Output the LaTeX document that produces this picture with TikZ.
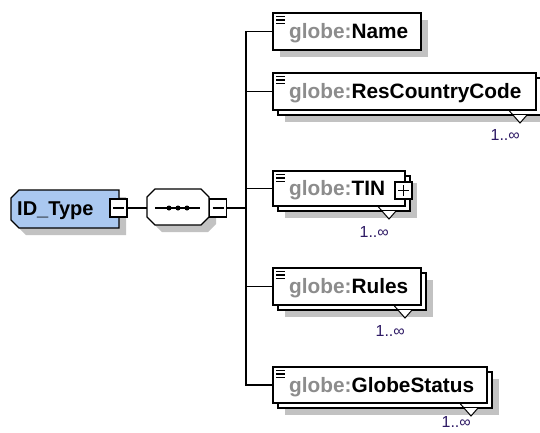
\documentclass[tikz,border=0pt]{standalone}
\usepackage{fontspec}
\setmainfont{Liberation Sans}
\definecolor{idblue}{RGB}{170,200,240}
\definecolor{shadowgray}{RGB}{194,194,194}
\definecolor{prefixgray}{RGB}{140,140,140}
\definecolor{labelcol}{RGB}{45,25,100}
\newcommand{\elicon}[2]{%
  \draw[line width=1.1pt] (#1+3,#2+3.5) -- (#1+12,#2+3.5);
  \draw[line width=1.1pt] (#1+3,#2+7) -- (#1+12,#2+7);
  \draw[line width=1.1pt] (#1+3,#2+10.5) -- (#1+12,#2+10.5);}
\newcommand{\singleelem}[6]{%
  \fill[sh] (#2+7,#3+7) rectangle (#4+7,#5+7);
  \node[elbox, minimum width={#4-#2}, minimum height={#5-#3}] (#1) at (#2,#3) {};
  \elicon{#2}{#3}
  \node[eltext] (#1txt) at (#2+16,{(#3+#5)/2+7}) {{\color{prefixgray}globe:}#6};}
\newcommand{\repelem}[7]{%
  \fill[sh] (#2+12,#3+12) rectangle (#4+12,#5+12);
  \node[elbox, minimum width={#4-#2}, minimum height={#5-#3}] (#1bk) at (#2+5,#3+5) {};
  \fill[white] (#4-23,#5+5) -- (#4-9,#5+5) -- (#4-16,#5+13) -- cycle;
  \draw[line width=1pt] (#4-27.4,#5) -- (#4-16,#5+13) -- (#4-9,#5+5);
  \node[elbox, minimum width={#4-#2}, minimum height={#5-#3}] (#1) at (#2,#3) {};
  \elicon{#2}{#3}
  \node[eltext] (#1txt) at (#2+16,{(#3+#5)/2+7}) {{\color{prefixgray}globe:}#6};
  \node[card] (#1card) at (#4-16,#7) {1..∞};}
\begin{document}
\begin{tikzpicture}[x=1pt,y=-1pt,line join=miter,
  frame/.style={draw=black,line width=1.3pt},
  elbox/.style={frame,fill=white,rectangle,inner sep=0pt,outer sep=0pt,anchor=north west},
  sh/.style={fill=shadowgray},
  eltext/.style={anchor=base west,inner sep=0pt,font=\fontsize{20.8}{24}\selectfont\bfseries},
  card/.style={anchor=base east,inner sep=0pt,text=labelcol,font=\fontsize{16}{18}\selectfont},
  conn/.style={draw=black,line width=1.3pt},
  minusbox/.style={frame,fill=white,rectangle,inner sep=0pt,outer sep=0pt,minimum width=17,minimum height=18}]
\useasboundingbox (0,0) rectangle (540,432);

% ---- ID_Type complex type
\fill[sh] (18,205) -- (26,197) -- (126,197) -- (126,235) -- (26,235) -- (18,227) -- cycle;
\filldraw[frame,fill=idblue] (11,198) -- (19,190) -- (119,190) -- (119,228) -- (19,228) -- (11,220) -- cycle;
\node[anchor=base west,inner sep=0pt,font=\fontsize{20}{24}\selectfont\bfseries] (idtype) at (17,215) {ID\_Type};
\node[minusbox] (idminus) at (118.5,208) {};
\draw[line width=1.2pt] ([xshift=3pt]idminus.west) -- ([xshift=-3pt]idminus.east);

% ---- sequence compositor
\fill[sh] (154,204) -- (162,196) -- (208,196) -- (216,204) -- (216,224) -- (208,232) -- (162,232) -- (154,224) -- cycle;
\filldraw[frame,fill=white] (147,197) -- (155,189) -- (201,189) -- (209,197) -- (209,217) -- (201,225) -- (155,225) -- (147,217) -- cycle;
\node[inner sep=0pt,outer sep=0pt,minimum width=62,minimum height=36] (seq) at (178,208) {};
\draw[line width=1.2pt] (155,208) -- (200,208);
\fill (169,208) circle[radius=2.5pt];
\fill (178,208) circle[radius=2.5pt];
\fill (187,208) circle[radius=2.5pt];
\node[minusbox] (seqminus) at (218,208) {};
\draw[line width=1.2pt] ([xshift=3pt]seqminus.west) -- ([xshift=-3pt]seqminus.east);

\draw[conn] (idminus.east) -- (seq.west);
\coordinate (trk) at (246,208);
\draw[conn] (seqminus.east) -- (trk);

% ---- child elements
\singleelem{name}{273}{13}{421}{50}{Name}
\repelem{rcc}{273}{73}{536}{110}{ResCountryCode}{140}
\repelem{tin}{273}{171}{405}{206}{TIN}{237}
\node[minusbox,minimum width=17,minimum height=17] (tinplus) at (403.5,190.5) {};
\draw[line width=1.2pt] ([xshift=3pt]tinplus.west) -- ([xshift=-3pt]tinplus.east);
\draw[line width=1.2pt] ([yshift=3pt]tinplus.south) -- ([yshift=-3pt]tinplus.north);
\repelem{rules}{273}{268}{421}{305}{Rules}{336}
\repelem{gs}{273}{367}{487}{403}{GlobeStatus}{427}

\draw[conn] (trk) |- (name.west);
\draw[conn] (trk) |- (rcc.west);
\draw[conn] (trk) |- (tin.west);
\draw[conn] (trk) |- (rules.west);
\draw[conn] (trk) |- (gs.west);
\end{tikzpicture}
\end{document}
